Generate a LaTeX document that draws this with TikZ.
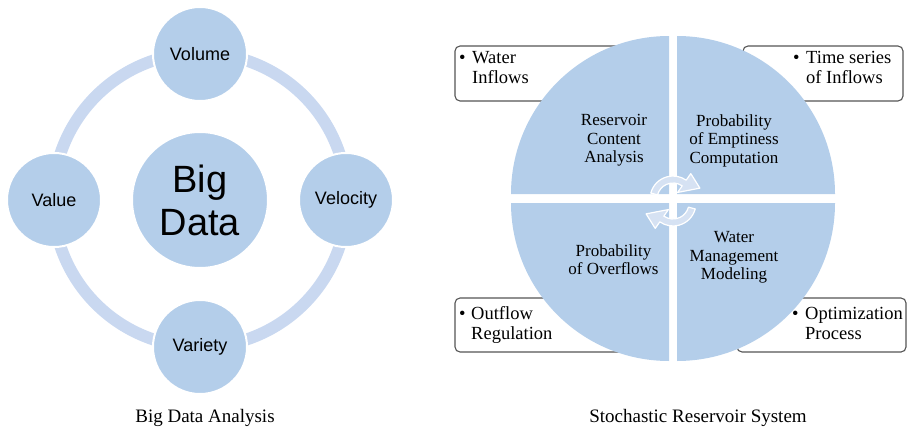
\documentclass[tikz,border=0pt]{standalone}
\usepackage{fontspec}
\setmainfont{Liberation Serif}
\setsansfont{Liberation Sans}
\definecolor{cfill}{RGB}{180,206,234}
\definecolor{ringc}{RGB}{201,216,240}
\definecolor{arrowc}{RGB}{214,226,243}
\definecolor{boxline}{RGB}{85,85,85}
\tikzset{
  sat/.style={circle, fill=cfill, draw=white, line width=2pt, minimum size=94pt, inner sep=0pt,
    font=\sffamily\fontsize{18}{20}\selectfont},
  hub/.style={circle, fill=cfill, draw=white, line width=2pt, minimum size=136pt, inner sep=0pt,
    align=center, font=\sffamily\fontsize{38}{43}\selectfont},
  captext/.style={font=\fontsize{19}{22}\selectfont, inner sep=0pt, anchor=base},
  quad/.style={fill=cfill},
  qtext/.style={align=center, inner sep=0pt, font=\fontsize{17}{18.5}\selectfont},
  boxst/.style={draw=boxline, line width=1.1pt, rounded corners=5pt, fill=white},
  btext/.style={inner sep=0pt, anchor=base west, font=\fontsize{18.5}{20}\selectfont},
  arrowst/.style={fill=arrowc, draw=white, line width=1.2pt, line join=round},
}
\begin{document}
\begin{tikzpicture}[x=1pt,y=-1pt]
\useasboundingbox (0,0) rectangle (910,431);
% ---------- left diagram ----------
\draw[ringc, line width=12pt] (200,200) circle[radius=147];
\node[hub] (big) at (200,200) {Big\\Data};
\node[sat] (vol) at (200,54) {Volume};
\node[sat] (val) at (54,200) {Value};
\node[sat] (vel) at (346,200) {Velocity};
\node[sat] (var) at (200,347) {Variety};
\node[captext] (cap1) at (205,422) {Big Data Analysis};
% ---------- right diagram ----------
\draw[boxst] (455,46) rectangle (625,101);
\draw[boxst] (743,46) rectangle (903,101);
\draw[boxst] (455,298) rectangle (625,352);
\draw[boxst] (737,298) rectangle (906,352);
\fill[quad] (669,194) -- ++(-158,0) arc[start angle=180,end angle=270,radius=158] -- cycle;
\fill[quad] (677,194) -- ++(0,-158) arc[start angle=270,end angle=360,radius=158] -- cycle;
\fill[quad] (677,203) -- ++(158,0) arc[start angle=0,end angle=90,radius=158] -- cycle;
\fill[quad] (669,203) -- ++(0,158) arc[start angle=90,end angle=180,radius=158] -- cycle;
\begin{scope}[shift={(673,199)}]
\path[arrowst] (195:23) arc[start angle=195,end angle=305,radius=23] -- (305:31) -- (338:29)
  -- (305:8) -- (305:16) arc[start angle=305,end angle=195,radius=16] -- cycle;
\end{scope}
\begin{scope}[shift={(673,203)}]
\path[arrowst] (15:23) arc[start angle=15,end angle=125,radius=23] -- (125:31) -- (158:29)
  -- (125:8) -- (125:16) arc[start angle=125,end angle=15,radius=16] -- cycle;
\end{scope}
\node[qtext] (q1) at (614,140.5) {Reservoir\\Content\\Analysis};
\node[qtext] (q2) at (734,140.5) {Probability\\of Emptiness\\Computation};
\node[qtext] (q3) at (613.5,259.5) {Probability\\of Overflows};
\node[qtext] (q4) at (734,257.7) {Water\\Management\\Modeling};
% box texts
\node[btext] (b1a) at (459,63) {\textbullet};
\node[btext] (b1b) at (472,63) {Water};
\node[btext] (b1c) at (472,83) {Inflows};
\node[btext] (b2a) at (793,63) {\textbullet};
\node[btext] (b2b) at (806,63) {Time series};
\node[btext] (b2c) at (806,83) {of Inflows};
\node[btext] (b3a) at (459,319) {\textbullet};
\node[btext] (b3b) at (471,319) {Outflow};
\node[btext] (b3c) at (471,339) {Regulation};
\node[btext] (b4a) at (792,319) {\textbullet};
\node[btext] (b4b) at (805,319) {Optimization};
\node[btext] (b4c) at (805,339) {Process};
\node[captext] (cap2) at (698,422) {Stochastic Reservoir System};
\end{tikzpicture}
\end{document}
